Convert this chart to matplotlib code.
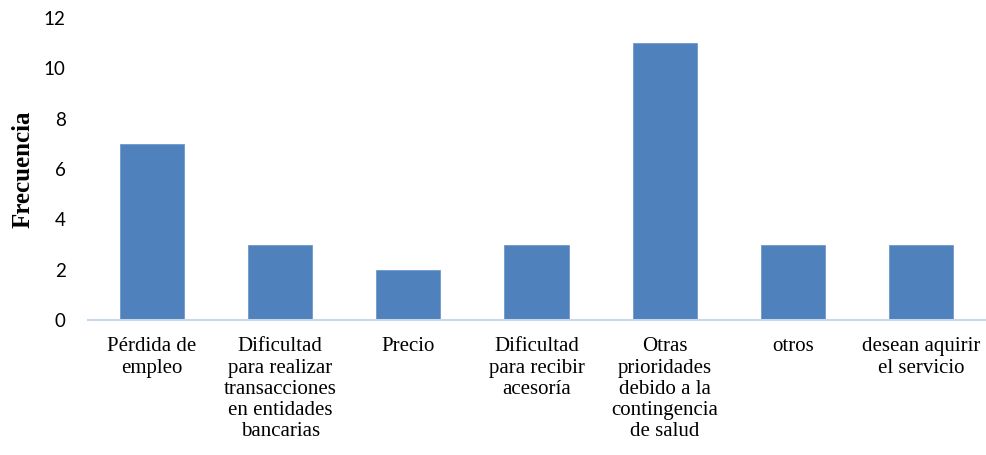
import matplotlib
matplotlib.use("Agg")
import matplotlib.pyplot as plt

# datos
categorias = [
    "Pérdida de\nempleo",
    "Dificultad\npara realizar\ntransacciones\nen entidades\nbancarias",
    "Precio",
    "Dificultad\npara recibir\nacesoría",
    "Otras\nprioridades\ndebido a la\ncontingencia\nde salud",
    "otros",
    "desean aquirir\nel servicio",
]
frecuencia = [7, 3, 2, 3, 11, 3, 3]
y_ticks = [0, 2, 4, 6, 8, 10, 12]

fig = plt.figure(figsize=(9.86, 4.55), dpi=100)
ax = fig.add_axes([0.0892, 0.2967, 0.9098, 0.6637])

x = range(len(categorias))
ax.bar(x, frecuencia, width=0.5, color="#4f81bd", edgecolor="#6e98cc", linewidth=0.6, zorder=2)

ax.set_xlim(-0.5, len(categorias) - 0.5)
ax.set_ylim(0, 12)
ax.set_yticks(y_ticks)
ax.set_yticklabels([str(v) for v in y_ticks], fontfamily="Lato", fontsize=13.5)
ax.set_xticks(list(x))
ax.set_xticklabels(categorias, fontfamily="Liberation Serif", fontsize=15,
                   linespacing=1.16, va="top")
ax.tick_params(axis="both", length=0)
ax.tick_params(axis="x", pad=12.5)
ax.tick_params(axis="y", pad=16)

for s in ["top", "right", "left"]:
    ax.spines[s].set_visible(False)
ax.spines["bottom"].set_color("#c9d7ea")
ax.spines["bottom"].set_linewidth(1.5)

ax.set_ylabel("Frecuencia", fontfamily="Liberation Serif", fontweight="bold",
              fontsize=18)
ax.yaxis.set_label_coords(-0.06, 0.5)

fig.savefig("out.png", dpi=100)
